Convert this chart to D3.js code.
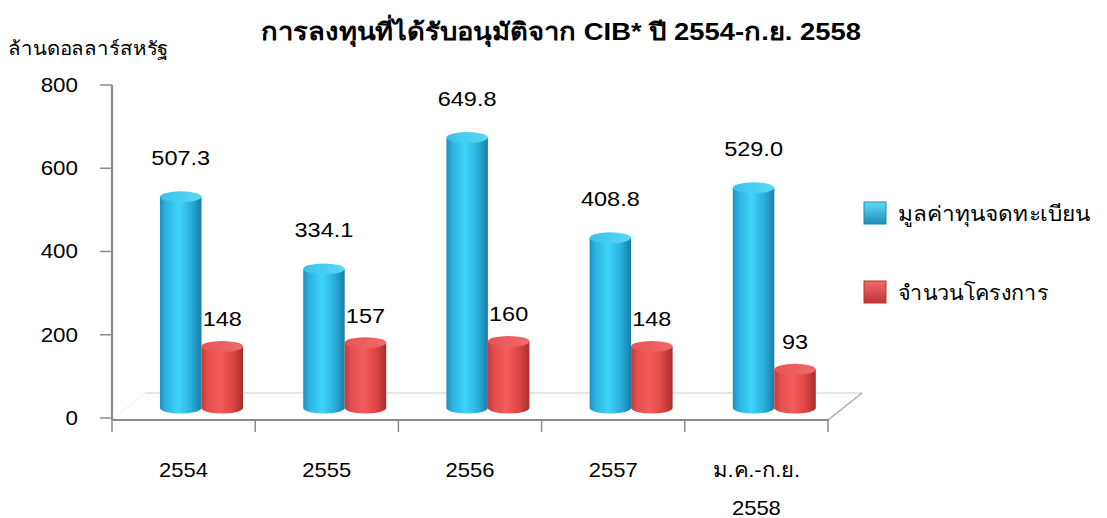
<!DOCTYPE html>
<html><head><meta charset="utf-8">
<script src="https://cdn.jsdelivr.net/npm/d3@7"></script>
<style>
body{margin:0;background:#fff;}
svg{display:block;font-family:"Liberation Sans",Arial,"Noto Sans","DejaVu Sans",sans-serif;}
</style></head>
<body>
<script>
const categories = ["2554","2555","2556","2557","ม.ค.-ก.ย.|2558"];
const seriesNames = ["มูลค่าทุนจดทะเบียน","จำนวนโครงการ"];
const capital = [507.3, 334.1, 649.8, 408.8, 529.0];
const projects = [148, 157, 160, 148, 93];
const capitalLabels = ["507.3","334.1","649.8","408.8","529.0"];
const projectLabels = ["148","157","160","148","93"];
const yTicks = [0,200,400,600,800];

const W=1107,H=518;
const svg=d3.select("body").append("svg").attr("width",W).attr("height",H);
const defs=svg.append("defs");
function grad(id,stops){
  const g=defs.append("linearGradient").attr("id",id).attr("x1","0%").attr("x2","100%").attr("y1","0%").attr("y2","0%");
  stops.forEach(s=>g.append("stop").attr("offset",s[0]).attr("stop-color",s[1]));
}
grad("gBlue",[["0%","#1f8fbf"],["15%","#2cb4e3"],["45%","#3fd3f8"],["75%","#2ab0de"],["100%","#1a7ca6"]]);
grad("gRed",[["0%","#c43a3a"],["15%","#e44d4d"],["45%","#f35c5c"],["75%","#de4646"],["100%","#a82d2d"]]);
grad("gBlueTop",[["0%","#3ac2ea"],["100%","#5ad8f8"]]);
grad("gRedTop",[["0%","#e85454"],["100%","#f06a6a"]]);
const lb=defs.append("linearGradient").attr("id","lBlue").attr("x1","0").attr("x2","0").attr("y1","0").attr("y2","1");
lb.append("stop").attr("offset","0%").attr("stop-color","#5fd9f7");
lb.append("stop").attr("offset","100%").attr("stop-color","#1f8fb8");
const lr=defs.append("linearGradient").attr("id","lRed").attr("x1","0").attr("x2","0").attr("y1","0").attr("y2","1");
lr.append("stop").attr("offset","0%").attr("stop-color","#f46a6a");
lr.append("stop").attr("offset","100%").attr("stop-color","#c03434");

const x=d3.scaleBand().domain(categories).range([112,828]).padding(0);
const x1=d3.scaleBand().domain(seriesNames).range([48,131]).padding(0);
const y=d3.scaleLinear().domain([0,800]).range([418,85]);
const depth=10;

// title
svg.append("text").attr("x",261).attr("y",40).attr("textLength",600).attr("lengthAdjust","spacingAndGlyphs")
  .attr("font-size",24).attr("font-weight","bold").text("การลงทุนที่ได้รับอนุมัติจาก CIB* ปี 2554-ก.ย. 2558");
svg.append("text").attr("x",8).attr("y",55).attr("font-size",19).attr("textLength",160).attr("lengthAdjust","spacingAndGlyphs").text("ล้านดอลลาร์สหรัฐ");

// floor back line
svg.append("line").attr("x1",145).attr("x2",862).attr("y1",y(0)-25).attr("y2",y(0)-25).attr("stroke","#dcdcdc").attr("stroke-width",1.5);
svg.append("line").attr("x1",828).attr("y1",y(0)+2).attr("x2",862).attr("y2",y(0)-25).attr("stroke","#aaa").attr("stroke-width",1.5);
svg.append("line").attr("x1",112).attr("y1",y(0)+2).attr("x2",145).attr("y2",y(0)-25).attr("stroke","#f0f0f0").attr("stroke-width",1);

// y axis
const yAxis=svg.append("g");
yAxis.append("line").attr("x1",112).attr("x2",112).attr("y1",y(800)).attr("y2",y(0)+2).attr("stroke","#8a8a8a").attr("stroke-width",2.2);
yAxis.selectAll(".yt").data(yTicks).enter().append("line").attr("x1",100).attr("x2",112).attr("y1",d=>y(d)).attr("y2",d=>y(d)).attr("stroke","#8a8a8a").attr("stroke-width",1.5);
yAxis.selectAll(".yl").data(yTicks).enter().append("text").attr("x",78).attr("y",d=>y(d)+7).attr("text-anchor","end").attr("font-size",20)
  .attr("transform",d=>`translate(78,0) scale(1.12,1) translate(-78,0)`).text(d=>d);

// x axis
svg.append("line").attr("x1",112).attr("x2",829).attr("y1",y(0)+2).attr("y2",y(0)+2).attr("stroke","#8a8a8a").attr("stroke-width",2.2);
const xt=categories.map(c=>x(c)).concat([x.range()[1]]);
svg.selectAll(".xt").data(xt).enter().append("line").attr("x1",d=>d).attr("x2",d=>d).attr("y1",y(0)+2).attr("y2",y(0)+14).attr("stroke","#8a8a8a").attr("stroke-width",1.5);
categories.forEach(c=>{
  const parts=c.split("|");
  const cx=x(c)+x.bandwidth()/2;
  parts.forEach((p,i)=>{
    svg.append("text").attr("x",cx).attr("y",477+i*38).attr("text-anchor","middle").attr("font-size",20)
      .attr("transform",`translate(${cx},0) scale(1.1,1) translate(${-cx},0)`).text(p);
  });
});

// cylinders
function cylinder(g,cx,w,top,base,fill,topFill){
  const rx=w/2,ry=5.5;
  g.append("path").attr("d",`M${cx-rx},${top} L${cx-rx},${base} A${rx},${ry} 0 0 0 ${cx+rx},${base} L${cx+rx},${top} Z`).attr("fill",fill);
  g.append("ellipse").attr("cx",cx).attr("cy",top).attr("rx",rx).attr("ry",ry).attr("fill",topFill);
}
const series=[{name:seriesNames[0],vals:capital,labs:capitalLabels,fill:"url(#gBlue)",top:"url(#gBlueTop)",loff:32},
              {name:seriesNames[1],vals:projects,labs:projectLabels,fill:"url(#gRed)",top:"url(#gRedTop)",loff:20}];
const bw=x1.bandwidth();
series.forEach(s=>{
  const g=svg.append("g");
  categories.forEach((c,i)=>{
    const cx=x(c)+x1(s.name)+bw/2;
    const top=y(s.vals[i])-depth, base=y(0)-depth;
    cylinder(g,cx,bw,top,base,s.fill,s.top);
    const lx=cx;
    g.append("text").attr("x",lx).attr("y",top-s.loff).attr("text-anchor","middle").attr("font-size",21)
      .attr("transform",`translate(${lx},0) scale(1.12,1) translate(${-lx},0)`).text(s.labs[i]);
  });
});

// legend
const leg=svg.append("g");
[[seriesNames[0],"url(#lBlue)","#1d89b2",213,192],[seriesNames[1],"url(#lRed)","#b43232",292,150]].forEach(d=>{
  leg.append("rect").attr("x",864).attr("y",d[3]-11).attr("width",22).attr("height",22).attr("fill",d[1]).attr("stroke",d[2]).attr("stroke-width",1);
  leg.append("text").attr("x",898).attr("y",d[3]+8).attr("font-size",21).attr("textLength",d[4]).attr("lengthAdjust","spacingAndGlyphs").text(d[0]);
});
</script>
</body></html>
